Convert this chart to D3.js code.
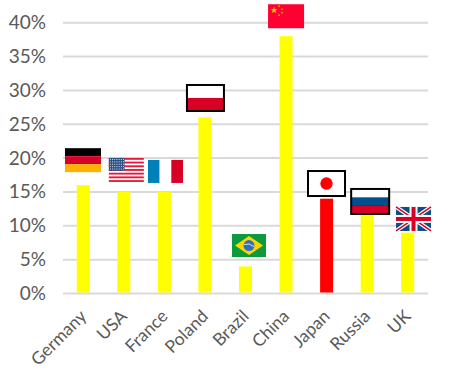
<!DOCTYPE html>
<html><head><meta charset="utf-8">
<script src="https://cdnjs.cloudflare.com/ajax/libs/d3/7.8.5/d3.min.js"></script>
<style>html,body{margin:0;padding:0;background:#fff}svg{display:block}text{font-family:Lato,"Open Sans",sans-serif;fill:#595959}</style>
</head><body><svg id="c" width="451" height="385"></svg>
<script>
const categories=["Germany","USA","France","Poland","Brazil","China","Japan","Russia","UK"];
const values=[16,15,15,26,4,38,14,12,9];
const barColors=["#ffff00","#ffff00","#ffff00","#ffff00","#ffff00","#ffff00","#ff0000","#ffff00","#ffff00"];
const tickValues=[0,5,10,15,20,25,30,35,40];
const flagBoxes={Germany:[-18.3,-37,36,24],USA:[-15,-34,35,24],France:[-16.4,-32,35,23],Poland:[-19,-33.5,39,28],Brazil:[-13.5,-32.4,34,23],China:[-18,-32,36,24],Japan:[-19.6,-28.7,39,27],Russia:[-17,-24.3,40,27],UK:[-11.7,-25.6,35,24]};

const svg=d3.select("#c");
const x=d3.scaleBand().domain(categories).range([63,428]);
const y=d3.scaleLinear().domain([0,40]).range([293.5,22.7]);

svg.append("g").selectAll("line").data(tickValues).join("line")
 .attr("x1",63).attr("x2",428).attr("y1",d=>y(d)).attr("y2",d=>y(d))
 .attr("stroke","#d9d9d9").attr("stroke-width",2);
svg.append("g").selectAll("text").data(tickValues).join("text")
 .attr("x",46).attr("y",d=>y(d)+6.5).attr("text-anchor","end").attr("font-size",19).text(d=>d+"%");
svg.append("g").selectAll("rect").data(categories).join("rect")
 .attr("x",d=>x(d)+x.bandwidth()/2-6.5).attr("width",13)
 .attr("y",(d,i)=>y(values[i])).attr("height",(d,i)=>y(0)-y(values[i])-1)
 .attr("fill",(d,i)=>barColors[i]);
svg.append("g").selectAll("text").data(categories).join("text")
 .attr("font-size",17.5).attr("text-anchor","end")
 .attr("transform",d=>`translate(${x(d)+x.bandwidth()/2},${313}) rotate(-45)`)
 .attr("dy","0.35em").text(d=>d);

function R(g,a,b,c,d,f){g.append("rect").attr("x",a).attr("y",b).attr("width",c).attr("height",d).attr("fill",f)}
function star(g,cx,cy,r,f){const p=d3.range(10).map(i=>{const a=-Math.PI/2+i*Math.PI/5,q=i%2?r*0.42:r;return [cx+q*Math.cos(a),cy+q*Math.sin(a)]});g.append("polygon").attr("points",p.join(" ")).attr("fill",f)}
const T=2;
const draw={
 Germany(g,w,h){R(g,0,0,w,h/3,"#000");R(g,0,h/3,w,h/3,"#d80027");R(g,0,2*h/3,w,h/3,"#ffb000")},
 USA(g,w,h){R(g,0,0,w,h,"#fff");d3.range(7).forEach(i=>R(g,0,i*h*2/13,w,h/13,"#e8173a"));R(g,0,0,w*0.45,h*7/13,"#2a4f85");
  d3.range(5).forEach(r=>d3.range(7).forEach(c=>R(g,1+c*2.2,1+r*2.4,1,1,"#dfe6f2")))},
 France(g,w,h){R(g,0,0,w/3,h,"#0080b8");R(g,w/3,0,w/3,h,"#fff");R(g,2*w/3,0,w/3,h,"#d80027")},
 Poland(g,w,h){R(g,0,0,w,h,"#000");R(g,T,T,w-2*T,h/2-T,"#fff");R(g,T,h/2,w-2*T,h/2-T,"#d80027")},
 Brazil(g,w,h){R(g,0,0,w,h,"#0d9a3c");g.append("polygon").attr("points",[[3,h/2],[w/2,2],[w-3,h/2],[w/2,h-2]].join(" ")).attr("fill","#ffd500");g.append("circle").attr("cx",w/2).attr("cy",h/2).attr("r",5.5).attr("fill","#2e6fc0");g.append("path").attr("d",`M${w/2-5},${h/2-1}Q${w/2},${h/2-3} ${w/2+5},${h/2+1}`).attr("fill","none").attr("stroke","#fff").attr("stroke-width",0.8)},
 China(g,w,h){R(g,0,0,w,h,"#ff0033");star(g,6,6,3.5,"#ffcc00");[[11,2],[14,5],[14,8.5],[11,11]].forEach(p=>star(g,p[0],p[1],1.2,"#ffcc00"))},
 Japan(g,w,h){R(g,0,0,w,h,"#000");R(g,T,T,w-2*T,h-2*T,"#fff");g.append("circle").attr("cx",w/2).attr("cy",h/2).attr("r",6.2).attr("fill","#ff0000")},
 Russia(g,w,h){R(g,0,0,w,h,"#000");const s=(h-2*T)/3;R(g,T,T,w-2*T,s,"#fff");R(g,T,T+s,w-2*T,s,"#004f8f");R(g,T,T+2*s,w-2*T,s,"#d80027")},
 UK(g,w,h){R(g,0,0,w,h,"#0b4f83");const l=(a,b,c,d,s,k)=>g.append("line").attr("x1",a).attr("y1",b).attr("x2",c).attr("y2",d).attr("stroke",s).attr("stroke-width",k);
  l(0,0,w,h,"#fff",4);l(w,0,0,h,"#fff",4);l(0,0,w,h,"#d80027",1.5);l(w,0,0,h,"#d80027",1.5);
  R(g,w/2-4,0,8,h,"#fff");R(g,0,h/2-4,w,8,"#fff");R(g,w/2-2,0,4,h,"#d80027");R(g,0,h/2-2,w,4,"#d80027")}
};
categories.forEach((c,i)=>{const [dx,dy,w,h]=flagBoxes[c];
 const g=svg.append("g").attr("transform",`translate(${x(c)+x.bandwidth()/2+dx},${y(values[i])+dy})`);
 draw[c](g,w,h);});
</script></body></html>
